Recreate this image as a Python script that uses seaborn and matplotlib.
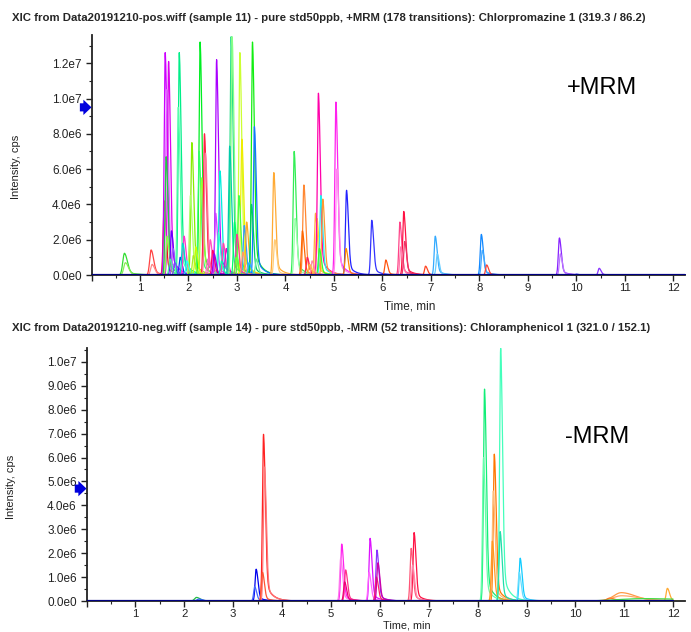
import numpy as np
import pandas as pd
import matplotlib
matplotlib.use("Agg")
import matplotlib.pyplot as plt
from matplotlib.ticker import MultipleLocator, FuncFormatter
import seaborn as sns

# ---------------- data ----------------
title_top = "XIC from Data20191210-pos.wiff (sample 11) - pure std50ppb, +MRM (178 transitions): Chlorpromazine 1 (319.3 / 86.2)"
title_bot = "XIC from Data20191210-neg.wiff (sample 14) - pure std50ppb, -MRM (52 transitions): Chloramphenicol 1 (321.0 / 152.1)"
mode_top = "+MRM"
mode_bot = "-MRM"
xlabel = "Time, min"
ylabel = "Intensity, cps"

# positive mode peaks: retention time (min), height (cps)
pos_rt = [0.68, 0.70, 1.23, 1.25, 1.50, 1.52, 1.55, 1.59, 1.54, 1.56, 1.65, 1.68,
          1.81, 1.79, 1.83, 1.91, 1.88, 2.07, 2.04, 2.24, 2.22, 2.27, 2.33, 2.35,
          2.15, 2.45, 2.58, 2.56, 2.65, 2.62, 2.72, 2.78, 2.88, 2.90, 2.85, 2.95,
          3.06, 3.10, 3.04, 3.15, 3.20, 3.32, 3.36, 3.30, 3.00, 2.50, 3.76, 3.78,
          4.18, 4.20, 4.38, 4.35, 4.45, 4.62, 4.65, 4.68, 4.73, 4.77, 4.70, 4.55,
          5.04, 5.06, 5.26, 5.25, 5.78, 6.07, 6.36, 6.44, 6.38, 6.46, 6.89, 7.09,
          7.13, 8.04, 8.06, 8.15, 9.65, 9.67, 10.47, 10.00,
          1.62, 1.72, 1.97, 2.10, 2.40, 2.53, 2.68, 2.98, 3.12, 3.25, 3.40, 4.50]
pos_height = [1.23e6, 0.70e6, 1.42e6, 0.60e6, 4.2e6, 1.26e7, 1.05e7, 1.21e7, 6.7e6, 2.2e6, 2.5e6, 1.5e6,
              1.26e7, 9.5e6, 1.0e6, 2.2e6, 1.8e6, 7.5e6, 4.5e6, 1.32e7, 7.0e6, 5.5e6, 8.0e6, 6.9e6,
              1.6e6, 2.0e6, 1.22e7, 3.5e6, 5.9e6, 2.4e6, 1.8e6, 1.5e6, 1.35e7, 1.35e7, 7.3e6, 3.0e6,
              1.26e7, 7.7e6, 4.5e6, 2.8e6, 3.0e6, 1.32e7, 8.4e6, 4.0e6, 2.3e6, 1.4e6, 5.8e6, 2.0e6,
              7.0e6, 3.2e6, 5.1e6, 2.5e6, 1.0e6, 3.5e6, 3.2e6, 1.03e7, 4.5e6, 4.3e6, 1.5e6, 0.8e6,
              9.8e6, 6.0e6, 4.8e6, 1.5e6, 3.1e6, 0.85e6, 3.0e6, 3.6e6, 1.6e6, 1.9e6, 0.5e6, 2.2e6,
              1.2e6, 2.3e6, 1.4e6, 0.57e6, 2.1e6, 1.2e6, 0.38e6, 0.05e6,
              0.9e6, 0.7e6, 0.8e6, 1.1e6, 0.9e6, 1.2e6, 0.8e6, 1.0e6, 1.3e6, 0.7e6, 0.9e6, 0.6e6]
pos_sigma = [0.035, 0.035, 0.03, 0.03] + [0.022] * 88

# negative mode peaks: retention time (min), height (cps)
neg_rt = [2.25, 2.30, 3.47, 3.44, 3.62, 3.64, 3.60, 5.22, 5.20, 5.30, 5.28, 5.80,
          5.78, 5.94, 5.93, 5.96, 6.70, 6.64, 6.67, 8.14, 8.12, 8.34, 8.32, 8.30,
          8.47, 8.46, 8.87, 8.85, 10.94, 10.95, 10.70, 11.88, 11.40]
neg_height = [0.15e6, 0.08e6, 1.33e6, 0.6e6, 6.97e6, 5.6e6, 1.2e6, 2.38e6, 1.8e6, 1.3e6, 0.8e6, 2.62e6,
              1.2e6, 2.13e6, 1.0e6, 1.6e6, 2.86e6, 2.2e6, 1.5e6, 8.86e6, 6.0e6, 6.14e6, 4.6e6, 2.5e6,
              1.057e7, 2.9e6, 1.79e6, 1.2e6, 0.35e6, 0.22e6, 0.12e6, 0.53e6, 0.10e6]
neg_sigma = [0.04, 0.04] + [0.022] * 26 + [0.16, 0.2, 0.06, 0.025, 0.5]

pos_colors = ['#33dd33', '#88ee55', '#ff4444', '#ff8888', '#ee1111', '#cc00ff', '#dd66ff', '#dd00ee',
              '#22cc44', '#88ff44', '#6600ff', '#9955ff', '#00ee88', '#55ffaa', '#0033ff', '#ff33cc',
              '#00ddcc', '#88ee00', '#aaff66', '#00ee22', '#33ff66', '#99ff33', '#ff2244', '#ff7799',
              '#ccff00', '#ff55bb', '#aa00ff', '#cc44ff', '#00eedd', '#33ffcc', '#ff44aa', '#ee00cc',
              '#22dd88', '#88ff88', '#00ccaa', '#00ff66', '#ccff33', '#eeee00', '#44ff44', '#3399ff',
              '#ffaa22', '#11ee11', '#1177ff', '#00cc66', '#ff3399', '#ff0066', '#ffaa33', '#ffcc77',
              '#33ee55', '#99ffaa', '#ff8833', '#ff6600', '#ff2255', '#ffaa44', '#ffdd33', '#ff00aa',
              '#22eeee', '#ff9933', '#33ff33', '#ff88aa', '#ff22ee', '#ff88ee', '#2222ff', '#ff8800',
              '#3333ff', '#ff5511', '#ff4488', '#ff1144', '#ff77aa', '#ee3366', '#ff4422', '#33aaff',
              '#66ccff', '#1188ff', '#44aaff', '#ff4433', '#8822ff', '#bb77ff', '#8833ff', '#3333ff',
              '#44ff99', '#7744ff', '#33ffee', '#aaee22', '#ff66cc', '#9900ee', '#00ffaa', '#66ff33',
              '#ff9966', '#22bbff', '#66ee99', '#ffbb44']
neg_colors = ['#22bb44', '#3366ff', '#0000ee', '#4466ff', '#ff2222', '#ff7777', '#ff5533', '#ff22ee',
              '#ff77ee', '#ff3388', '#ee0077', '#dd11ff', '#ff66ff', '#8833ff', '#ff2266', '#cc00aa',
              '#ff1144', '#ff5577', '#ff88aa', '#11ee77', '#66ffaa', '#ff7700', '#ffbb77', '#ff9922',
              '#44ffbb', '#22ddaa', '#11ccff', '#66ddff', '#ff9944', '#ffaa66', '#ff7722', '#ffaa33',
              '#44dd44']

pos_tmax = 12.25
neg_tmax = 12.0
arrow_top = 9.5e6
arrow_bot = 4.7e6


def build_traces(rts, heights, sigmas, tmax, prefix):
    frames = []
    for i, (t0, h, s) in enumerate(zip(rts, heights, sigmas)):
        t = np.arange(max(0.0, t0 - 8 * s), min(tmax, t0 + 30 * s), 0.004)
        dt = t - t0
        y = np.where(dt < 0, np.exp(-dt ** 2 / (2 * s ** 2)),
                     0.85 * np.exp(-dt ** 2 / (2 * (1.7 * s) ** 2)) + 0.15 * np.exp(-dt / (6 * s)))
        frames.append(pd.DataFrame({"time": t, "intensity": h * y, "trace": f"{prefix}{i}"}))
    return pd.concat(frames, ignore_index=True)


df_pos = build_traces(pos_rt, pos_height, pos_sigma, pos_tmax, "p")
df_neg = build_traces(neg_rt, neg_height, neg_sigma, neg_tmax, "n")
pal_pos = {f"p{i}": c for i, c in enumerate(pos_colors)}
pal_neg = {f"n{i}": c for i, c in enumerate(neg_colors)}

# ---------------- style ----------------
sns.set_style("ticks")
plt.rcParams["font.family"] = ["Liberation Sans", "DejaVu Sans"]

fig = plt.figure(figsize=(6.91, 6.32), dpi=100)
ax1 = fig.add_axes([91.5 / 691, 1 - 275 / 632, 594 / 691, 240 / 632])
ax2 = fig.add_axes([86.5 / 691, 1 - 601 / 632, 599 / 691, 253 / 632])


def sci(v, pos):
    if v < -1:
        return ""
    if abs(v) < 1:
        return "0.0e0"
    e = int(np.floor(np.log10(v) + 1e-9))
    return f"{v / 10 ** e:.1f}e{e}"


for ax, df, pal, tmax, ymax, ystep, yminor, mode, mpos, arr in [
        (ax1, df_pos, pal_pos, pos_tmax, 1.36e7, 2e6, 1e6, mode_top, (0.86, 0.78), arrow_top),
        (ax2, df_neg, pal_neg, neg_tmax, 1.058e7, 1e6, 5e5, mode_bot, (0.852, 0.65), arrow_bot)]:
    sns.lineplot(data=df, x="time", y="intensity", hue="trace", palette=pal,
                 estimator=None, legend=False, linewidth=0.9, ax=ax)
    ax.plot([0, tmax], [0, 0], color="#000080", lw=1.6, zorder=5)
    ax.set_xlim(0, 12.25)
    ax.set_ylim(0, ymax)
    ax.xaxis.set_major_locator(MultipleLocator(1))
    ax.xaxis.set_minor_locator(MultipleLocator(0.5))
    ax.yaxis.set_major_locator(MultipleLocator(ystep))
    ax.yaxis.set_minor_locator(MultipleLocator(yminor))
    ax.yaxis.set_major_formatter(FuncFormatter(sci))
    ax.xaxis.set_major_formatter(FuncFormatter(lambda v, p: "" if v < 0.5 else f"{int(round(v))}"))
    ax.tick_params(axis="both", which="major", length=4, width=1, labelsize=8.5,
                   colors="#222222", pad=3)
    ax.tick_params(axis="x", which="major", pad=2, labelsize=8.2)
    ax.tick_params(axis="both", which="minor", length=2, width=0.8, colors="#222222")
    for sp in ["top", "right"]:
        ax.spines[sp].set_visible(False)
    for sp in ["left", "bottom"]:
        ax.spines[sp].set_linewidth(1.3)
        ax.spines[sp].set_color("#222222")
    ax.set_xlabel(xlabel, fontsize=8.5 if ax is ax1 else 7.8, color="#222222")
    ax.set_ylabel(ylabel, fontsize=8, color="#222222")
    ax.xaxis.set_label_coords(0.535, -0.105 if ax is ax1 else -0.076)
    ax.yaxis.set_label_coords(-0.118, 0.45)
    ax.text(mpos[0], mpos[1], mode, transform=ax.transAxes, fontsize=17,
            ha="center", va="center", color="black")
    ax.annotate("", xy=(0.0, arr), xytext=(-0.24, arr),
                arrowprops=dict(arrowstyle="simple,head_length=0.45,head_width=0.85,tail_width=0.45",
                                mutation_scale=13, color="#0000dd", lw=0,
                                shrinkA=0, shrinkB=0),
                annotation_clip=False)

fig.text(12 / 691, 1 - 18 / 632, title_top, fontsize=8.2, fontweight="bold", va="center", ha="left")
fig.text(12 / 691, 1 - 328 / 632, title_bot, fontsize=8.2, fontweight="bold", va="center", ha="left")

fig.savefig("out.png", dpi=100)
